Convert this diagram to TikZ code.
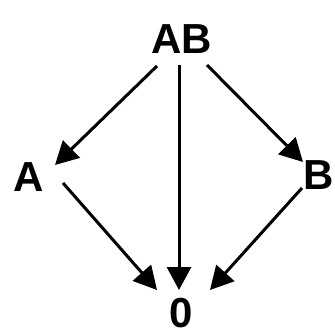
\documentclass[tikz,border=0pt]{standalone}
\usepackage{fontspec}
\setmainfont{Liberation Sans}
\usetikzlibrary{arrows.meta,calc}
\begin{document}
\begin{tikzpicture}[x=1pt,y=1pt,
  lbl/.style={inner sep=0pt,font=\fontsize{42}{42}\selectfont\bfseries},
  arr/.style={line width=3pt,-{Triangle[length=23pt,width=24pt]}}]
\useasboundingbox[fill=white] (0,0) rectangle (334,-336);
\node[lbl] (AB) at (182,-39) {AB};
\node[lbl] (A) at (29,-177) {A};
\node[lbl] (B) at (319,-175) {B};
\node[lbl] (Z) at (181,-313) {0};
\draw[arr] ($(AB)+(-25,-27)$) -- ($(A)+(26,12)$);
\draw[arr] ($(AB)+(-3,-26)$) -- ($(Z)+(-2,23)$);
\draw[arr] ($(AB)+(25,-26)$) -- ($(B)+(-16,13)$);
\draw[arr] ($(A)+(34,-6)$) -- ($(Z)+(-24,23)$);
\draw[arr] ($(B)+(-17,-13)$) -- ($(Z)+(29,23)$);
\end{tikzpicture}
\end{document}
